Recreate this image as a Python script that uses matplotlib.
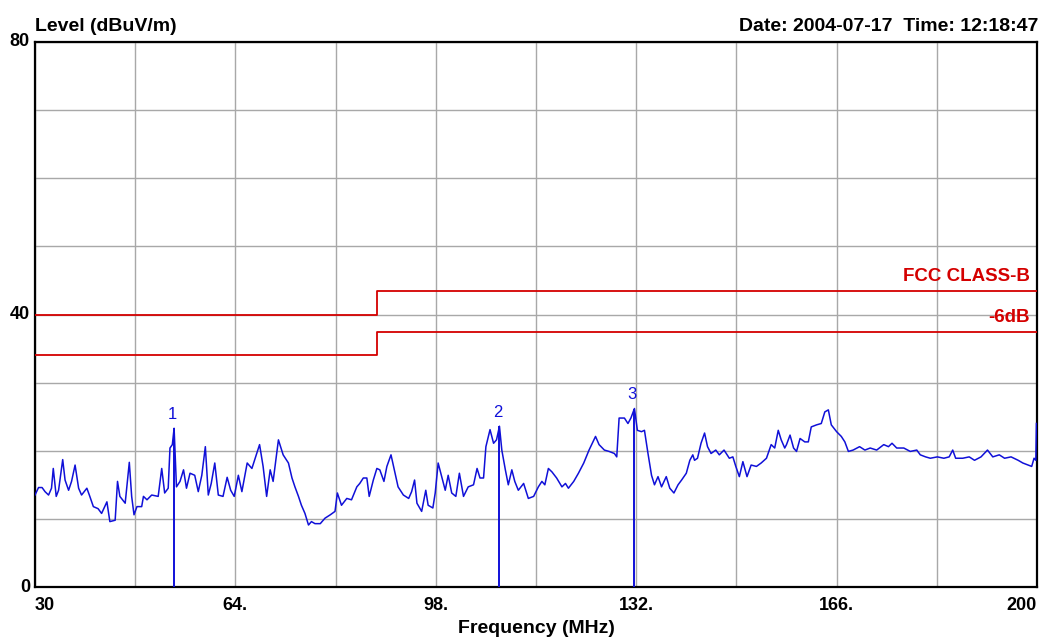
import matplotlib
matplotlib.use("Agg")
import matplotlib.pyplot as plt
import numpy as np

# ---------------- data ----------------
freq = [30.0, 30.6, 31.2, 31.7, 32.3, 32.8, 33.1, 33.6, 34.0, 34.7, 35.1, 35.7, 36.2, 36.8, 37.4, 37.9,
        38.8, 39.3, 39.9, 40.7, 41.3, 42.2, 42.7, 43.6, 44.0, 44.4, 45.3, 46.0, 46.4, 46.8, 47.3, 48.1,
        48.4, 49.0, 49.8, 50.9, 51.5, 52.0, 52.6, 52.9, 53.3, 53.6, 54.0, 54.6, 55.2, 55.7, 56.3, 57.1,
        57.7, 58.3, 58.9, 59.4, 59.9, 60.5, 61.1, 61.9, 62.6, 63.2, 63.8, 64.5, 65.1, 66.0, 66.8, 68.1,
        68.7, 69.3, 69.9, 70.4, 71.3, 72.1,
        73.0, 73.6, 74.1, 74.7, 75.2, 75.8, 76.4, 76.9, 77.5, 78.4, 79.2, 80.1, 80.9, 81.3, 82.0, 82.9,
        83.7, 84.6, 85.1, 85.7, 86.3, 86.7, 87.4, 88.0, 88.5, 89.2, 89.7, 90.4, 91.1, 91.6, 92.5, 93.4,
        93.9, 94.4, 94.8, 95.6, 96.3, 96.7, 97.5, 97.9, 98.4, 99.0, 99.6, 100.1, 100.7, 101.4, 102.0,
        102.7, 103.5, 104.4, 105.0, 105.5, 106.1, 106.5, 107.2, 107.8, 108.3, 108.8, 109.2, 109.8, 110.3,
        110.9, 111.4, 112.0, 112.9, 113.7, 114.6,
        115.4, 116.0, 116.5, 117.1, 117.7, 118.5, 119.4, 120.0, 120.5, 121.4, 122.2, 123.1, 124.0, 125.1,
        125.7, 126.6, 127.4, 128.3, 128.7, 129.1, 130.0, 130.6, 131.1, 131.7, 132.2, 132.9, 133.4, 134.0,
        134.6, 135.1, 135.7, 136.3, 137.1, 137.7, 138.4, 139.1, 139.7, 140.5, 141.1, 141.6, 141.9, 142.4,
        143.0, 143.6, 144.1, 144.7, 145.5, 146.1, 146.9, 147.8, 148.4, 148.9, 149.5, 150.1, 150.8, 151.5,
        152.4, 153.2, 154.1, 154.9, 155.5, 156.1, 156.6, 157.2,
        157.5, 158.1, 158.7, 159.2, 159.8, 160.6, 161.2, 161.7, 162.6, 163.4, 164.0, 164.6, 165.1, 166.0,
        166.8, 167.4, 168.0, 168.8, 169.9, 170.8, 171.7, 172.8, 174.0, 174.8, 175.4, 176.2, 177.4, 178.5,
        179.6, 180.2, 181.1, 181.9, 183.1, 184.2, 185.1, 185.7, 186.2, 187.4, 188.5, 189.4, 190.5, 191.6,
        192.5, 193.6, 194.5, 195.6, 196.8, 197.6, 198.5, 199.1, 199.5, 199.8, 199.9]

level = [13.5, 14.6, 14.6, 14.0, 13.5, 14.5, 17.4, 13.3, 14.2, 18.7, 15.7, 14.2, 15.5, 17.9, 14.5, 13.5,
         14.5, 13.3, 11.8, 11.5, 10.8, 12.5, 9.6, 9.8, 15.5, 13.3, 12.3, 18.3, 13.3, 10.6, 11.8, 11.8,
         13.3, 12.8, 13.5, 13.3, 17.4, 13.8, 14.5, 20.4, 20.9, 23.3, 14.7, 15.5, 17.2, 14.5, 16.7, 16.4,
         14.0, 16.4, 20.6, 13.5, 15.2, 18.2, 13.5, 13.3, 16.1, 14.2, 13.3, 16.4, 14.0, 18.2, 17.4, 20.9,
         17.7, 13.3, 17.2, 15.5, 21.6, 19.4,
         18.2, 16.0, 14.7, 13.3, 12.0, 10.8, 9.1, 9.6, 9.3, 9.3, 10.1, 10.6, 11.1, 13.8, 12.0, 13.0,
         12.8, 14.7, 15.2, 16.0, 16.0, 13.3, 15.7, 17.4, 17.2, 15.5, 17.7, 19.4, 16.7, 14.7, 13.5, 13.0,
         14.0, 15.7, 12.3, 11.1, 14.2, 12.0, 11.6, 13.8, 18.2, 16.2, 14.2, 16.4, 13.8, 13.3, 16.7,
         13.3, 14.7, 15.0, 17.4, 16.0, 16.0, 20.6, 23.1, 21.1, 21.6, 23.6, 20.1, 17.2, 15.0,
         17.2, 15.5, 14.2, 15.2, 13.0, 13.3,
         14.7, 15.5, 15.0, 17.4, 16.9, 16.0, 14.7, 15.2, 14.5, 15.5, 16.7, 18.2, 20.1, 22.1,
         20.9, 20.1, 19.9, 19.6, 19.1, 24.8, 24.8, 24.0, 24.8, 26.2, 23.0, 22.8, 23.0, 19.6,
         16.4, 15.0, 16.2, 14.7, 16.2, 14.5, 13.8, 15.0, 15.7, 16.7, 18.6, 19.4, 18.6, 18.9,
         21.1, 22.6, 20.6, 19.6, 20.1, 19.4, 20.1, 18.9, 19.1, 17.7, 16.2, 18.4, 16.2, 17.9,
         17.7, 18.2, 18.9, 20.9, 20.4, 23.0, 21.6, 20.4,
         20.9, 22.3, 20.4, 19.9, 21.8, 21.3, 21.3, 23.5, 23.8, 24.0, 25.7, 26.0, 23.8, 22.8,
         22.1, 21.3, 19.9, 20.1, 20.6, 20.1, 20.4, 20.1, 20.9, 20.6, 21.1, 20.4, 20.4, 19.9,
         20.1, 19.4, 19.1, 18.9, 19.1, 18.9, 19.1, 20.1, 18.9, 18.9, 19.1, 18.6, 19.1, 20.1,
         19.1, 19.4, 18.9, 19.1, 18.6, 18.2, 17.9, 17.7, 18.9, 18.6, 24.0]

limit_freq = [30, 88, 88, 200]
limit_classb = [40.0, 40.0, 43.5, 43.5]
limit_6db = [34.0, 34.0, 37.5, 37.5]

marker_freq = [53.6, 108.8, 131.6]
marker_level = [23.3, 23.6, 26.2]
marker_names = ["1", "2", "3"]

xtick_vals = [30, 64, 98, 132, 166, 200]
xtick_labels = ["30", "64.", "98.", "132.", "166.", "200"]
ytick_vals = [0, 40, 80]
ytick_labels = ["0", "40", "80"]

# ---------------- figure ----------------
W, H = 1055, 637
fig = plt.figure(figsize=(W / 100, H / 100), dpi=100)
plt.rcParams['font.family'] = ['Liberation Sans', 'DejaVu Sans']
ax = fig.add_axes([35 / W, 50 / H, 1002 / W, 545 / H])

ax.set_xlim(30, 200)
ax.set_ylim(0, 80)

# grid
ax.set_xticks(np.arange(30, 201, 17))
ax.set_yticks(np.arange(0, 81, 10))
ax.grid(True, color='#a8a8a8', linewidth=1.0)
ax.set_axisbelow(True)
ax.tick_params(length=0)
ax.set_xticklabels([])
ax.set_yticklabels([])

# limit lines
red = '#d40000'
ax.plot(limit_freq, limit_classb, color=red, lw=1.3, zorder=3)
ax.plot(limit_freq, limit_6db, color=red, lw=1.3, zorder=3)
ax.text(198.8, 44.3, "FCC CLASS-B", color=red, fontsize=13.5, fontweight='bold',
        ha='right', va='bottom', zorder=4)
ax.text(198.8, 38.3, "-6dB", color=red, fontsize=13.5, fontweight='bold',
        ha='right', va='bottom', zorder=4)

# trace
blue = '#1010d8'
ax.plot(freq, level, color=blue, lw=1.1, zorder=5)

# markers
ax.vlines(marker_freq, 0, marker_level, color=blue, lw=1.4, zorder=5)
for f, l, n in zip(marker_freq, marker_level, marker_names):
    ax.text(f - 0.3, l + 0.9, n, color=blue, fontsize=12, ha='center', va='bottom', zorder=6)

# frame
for s in ax.spines.values():
    s.set_linewidth(1.6)
    s.set_color('black')

# tick labels as text
for v, t in zip(xtick_vals, xtick_labels):
    ha = 'center'
    if v == 30:
        ha = 'left'
    elif v == 200:
        ha = 'right'
    ax.text(v, -1.4, t, fontsize=13, fontweight='bold', ha=ha, va='top',
            transform=ax.transData, clip_on=False)
for v, t in zip(ytick_vals, ytick_labels):
    ax.text(-0.005, v, t, fontsize=13, fontweight='bold', ha='right', va='center',
            transform=ax.get_yaxis_transform(), clip_on=False)

fig.text(35 / W, (H - 31) / H, "Level (dBuV/m)", fontsize=14, fontweight='bold',
         ha='left', va='baseline')
fig.text(1038 / W, (H - 31) / H, "Date: 2004-07-17  Time: 12:18:47", fontsize=14,
         fontweight='bold', ha='right', va='baseline')
fig.text(536 / W, 4 / H, "Frequency (MHz)", fontsize=14, fontweight='bold',
         ha='center', va='baseline')

fig.savefig("out.png", dpi=100, facecolor='white')
